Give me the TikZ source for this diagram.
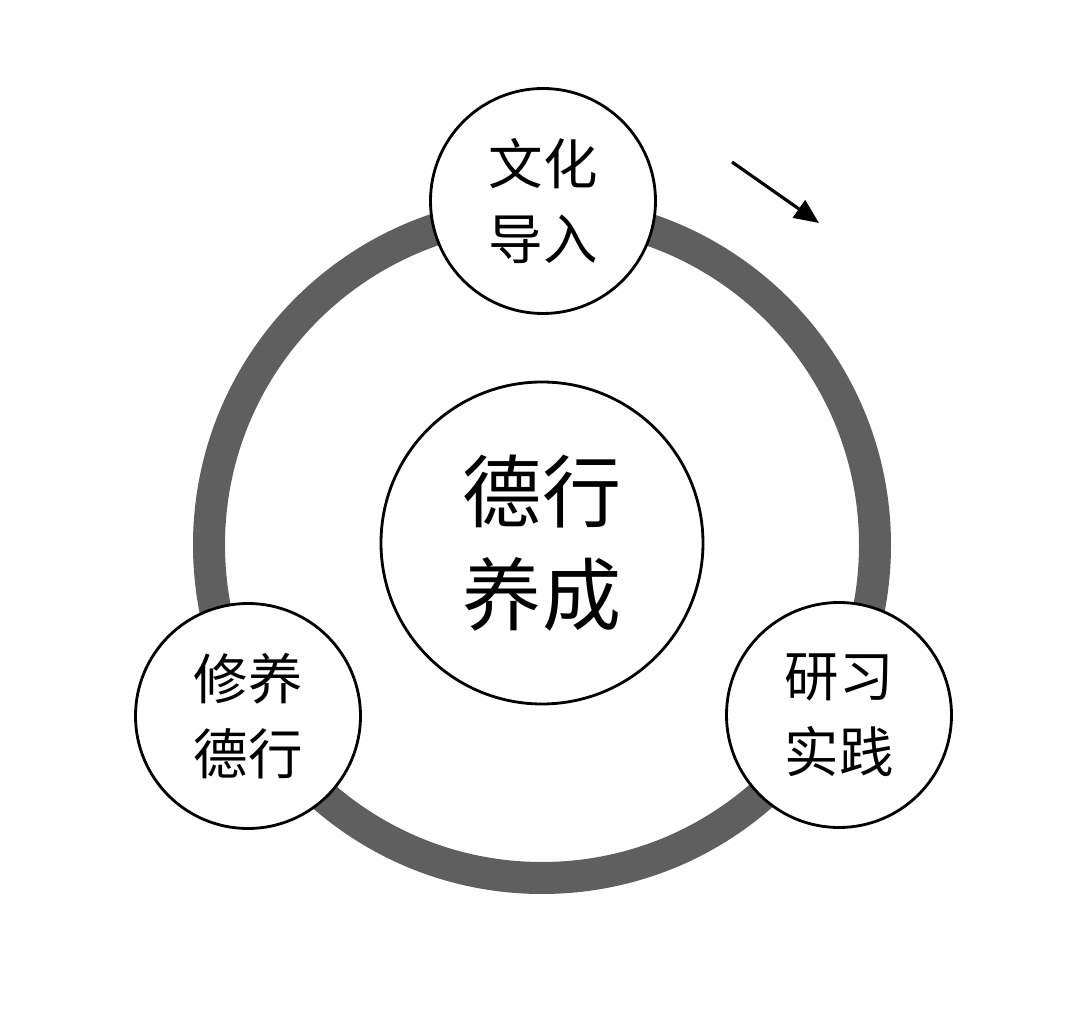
\documentclass[tikz,border=0pt]{standalone}
\usepackage{fontspec}
\newfontfamily\cjk{Noto Sans CJK SC}
\usetikzlibrary{arrows.meta}
\definecolor{ringgray}{RGB}{95,95,95}
\tikzset{
  smallc/.style={circle, draw=black, line width=1.6pt, fill=white, minimum size=225*0.02cm, inner sep=0pt, align=center, font=\cjk\fontsize{31}{43}\selectfont},
  bigc/.style={circle, draw=black, line width=1.6pt, fill=white, minimum size=322*0.02cm, inner sep=0pt, align=center, font=\cjk\fontsize{45}{59}\selectfont},
}
\begin{document}
\begin{tikzpicture}[x=0.02cm,y=-0.02cm]
\useasboundingbox (0,0) rectangle (1080,1023);
\fill[white] (0,0) rectangle (1080,1023);
\coordinate (ctr) at (542,545);
\draw[ringgray, line width=32*0.02cm] (ctr) circle[radius=333];
\node[bigc] (center) at (542,543) {德行\\养成};
\node[smallc] (top) at (543,201) {文化\\导入};
\node[smallc] (left) at (248,716) {修养\\德行};
\node[smallc] (right) at (839,715) {研习\\实践};
\coordinate (a1) at (732,162);
\coordinate (a2) at (819,223);
\draw[line width=1.8pt, -{Triangle[length=14pt,width=12pt]}] (a1) -- (a2);
\end{tikzpicture}
\end{document}
